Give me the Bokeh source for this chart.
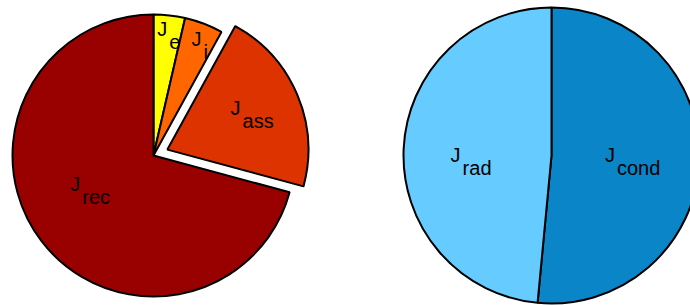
import numpy as np
from bokeh.plotting import figure
from bokeh.models import Range1d, ColumnDataSource
from bokeh.core.properties import value
from bokeh.embed import file_html
from bokeh.resources import INLINE

# ---- data ----
left_names = ["e", "i", "ass", "rec"]
left_values = [3.6, 4.4, 21.2, 70.8]
right_names = ["cond", "rad"]
right_values = [51.5, 48.5]

# ---- style ----
left_colors = ["#FFFF00", "#FF6600", "#DC3300", "#990000"]
right_colors = ["#0A85C8", "#66CCFF"]
left_explode = [0.0, 0.0, 0.107, 0.0]
right_explode = [0.0, 0.0]
left_label_frac = [0.87, 0.86, 0.58, 0.57]
left_label_dtheta = [0.0, 2.5, -3.5, 13.0]
right_label_frac = [0.43, 0.615]
right_label_dtheta = [1.8, -5.8]

FONT = "Liberation Sans"

p = figure(width=690, height=305, output_backend="svg", toolbar_location=None,
           x_range=Range1d(0, 690), y_range=Range1d(0, 305), min_border=0)
p.axis.visible = False
p.grid.visible = False
p.outline_line_color = None
p.background_fill_color = "white"


def draw_pie(cx, cy, R, values, names, colors, explode, lfrac, ldth):
    vals = np.array(values, dtype=float)
    frac = vals / vals.sum()
    cum = np.concatenate([[0.0], np.cumsum(frac)]) * 360.0  # clockwise from top
    a0 = cum[:-1]
    a1 = cum[1:]
    mid = (a0 + a1) / 2.0
    ex = np.array(explode) * R
    xs = cx + ex * np.sin(np.radians(mid))
    ys = cy + ex * np.cos(np.radians(mid))
    start = np.radians(90.0 - a1)
    end = np.radians(90.0 - a0)
    src = ColumnDataSource(dict(x=xs, y=ys, start=start, end=end, color=colors))
    p.wedge(x="x", y="y", radius=R, start_angle="start", end_angle="end",
            fill_color="color", line_color="black", line_width=2, source=src)
    phi = np.radians(mid + np.array(ldth))
    lx = xs + np.array(lfrac) * R * np.sin(phi)
    ly = ys + np.array(lfrac) * R * np.cos(phi)
    lsrc = ColumnDataSource(dict(x=lx, y=ly, j=["J"] * len(names), sub=names))
    p.text(x="x", y="y", text="j", source=lsrc, text_font=value(FONT),
           text_font_size="20px", text_color="black", text_align="right",
           text_baseline="alphabetic", y_offset=-5)
    p.text(x="x", y="y", text="sub", source=lsrc, text_font=value(FONT),
           text_font_size="20px", text_color="black", text_align="left",
           text_baseline="alphabetic", x_offset=2, y_offset=8)


draw_pie(153, 150, 141, left_values, left_names, left_colors,
         left_explode, left_label_frac, left_label_dtheta)
draw_pie(551, 150, 148, right_values, right_names, right_colors,
         right_explode, right_label_frac, right_label_dtheta)

open("out.html", "w").write(file_html(p, INLINE))
